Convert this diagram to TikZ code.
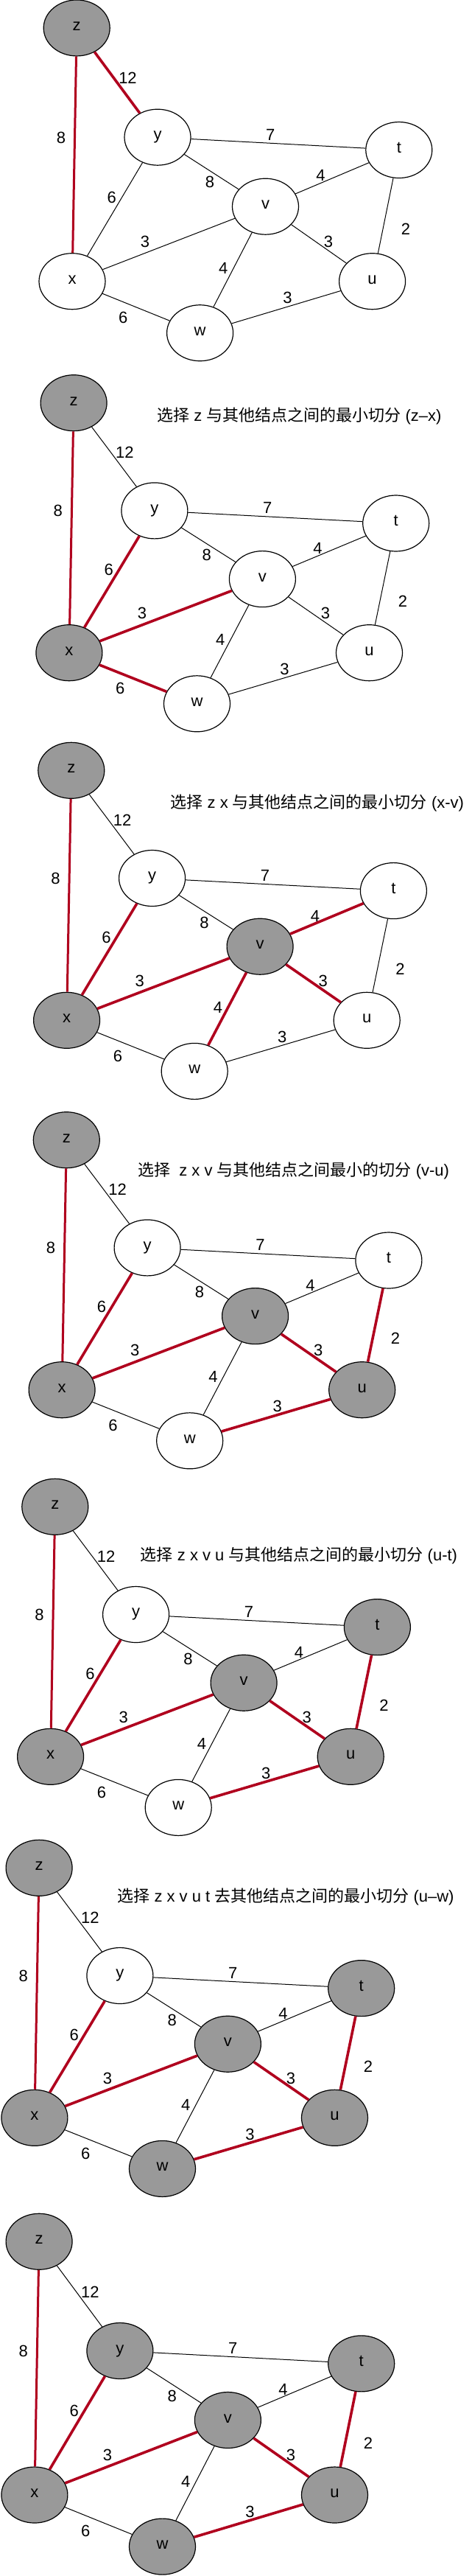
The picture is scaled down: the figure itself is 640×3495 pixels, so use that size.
\documentclass[tikz,border=0pt]{standalone}
\usepackage{fontspec}
\setmainfont{Liberation Sans}
\newfontfamily\cjk{Noto Sans CJK SC}
\usetikzlibrary{shapes.geometric}
\definecolor{cutred}{RGB}{176,0,30}
\definecolor{nodegray}{RGB}{153,153,153}
\tikzset{
  vtx/.style={ellipse, draw=black, line width=1.2pt, fill=white, minimum width=90pt, minimum height=76pt, inner sep=0pt, font=\fontsize{22}{26}\selectfont, text height=0.905em, text depth=0.212em},
  grayfill/.style={fill=nodegray},
  elab/.style={inner sep=0pt, font=\fontsize{22}{26}\selectfont},
  ttl/.style={anchor=west, inner sep=0pt, font=\fontsize{22}{26}\selectfont, text height=0.88em, text depth=0.12em},
  plainln/.style={draw=black, line width=1pt},
  redln/.style={draw=cutred, line width=3.6pt},
  redthin/.style={draw=cutred, line width=3pt},
  ndz/.style={}, ndy/.style={}, ndt/.style={}, ndv/.style={}, ndx/.style={}, ndu/.style={}, ndw/.style={},
  edzx/.style={plainln}, edzy/.style={plainln}, edyx/.style={plainln}, edyt/.style={plainln},
  edyv/.style={plainln}, edxv/.style={plainln}, edxw/.style={plainln}, edvt/.style={plainln},
  edvu/.style={plainln}, edvw/.style={plainln}, edtu/.style={plainln}, edwu/.style={plainln},
}
\newcommand\drawpanel[1]{%
  \node[vtx,ndz] (#1z) at (6.2,-339) {z};
  \node[vtx,ndy] (#1y) at (116,-192.8) {y};
  \node[vtx,ndt] (#1t) at (443.8,-175.7) {t};
  \node[vtx,ndv] (#1v) at (262.5,-100.1) {v};
  \node[vtx,ndx] (#1x) at (0,0) {x};
  \node[vtx,ndu] (#1u) at (407.6,0) {u};
  \node[vtx,ndw] (#1w) at (173.6,69.1) {w};
  \draw[edzx] (#1z) -- (#1x);
  \draw[edzy] (#1z) -- (#1y);
  \draw[edyx] (#1y) -- (#1x);
  \draw[edyt] (#1y) -- (#1t);
  \draw[edyv] (#1y) -- (#1v);
  \draw[edxv] (#1x) -- (#1v);
  \draw[edxw] (#1x) -- (#1w);
  \draw[edvt] (#1v) -- (#1t);
  \draw[edvu] (#1v) -- (#1u);
  \draw[edvw] (#1v) -- (#1w);
  \draw[edtu] (#1t) -- (#1u);
  \draw[edwu] (#1w) -- (#1u);
  \node[elab] (#1lzy) at (75.5,-271.9) {12};
  \node[elab] (#1lzx) at (-15.1,-192.3) {8};
  \node[elab] (#1lyt) at (269.3,-196.3) {7};
  \node[elab] (#1lyv) at (186.9,-132.5) {8};
  \node[elab] (#1lvt) at (337.5,-141.4) {4};
  \node[elab] (#1lyx) at (53.8,-112.4) {6};
  \node[elab] (#1ltu) at (453,-69.7) {2};
  \node[elab] (#1lxv) at (99.1,-53.3) {3};
  \node[elab] (#1lvu) at (348.1,-53.3) {3};
  \node[elab] (#1lvw) at (205.3,-17.5) {4};
  \node[elab] (#1lwu) at (292.6,22.3) {3};
  \node[elab] (#1lxw) at (69.3,48.6) {6};
}
\begin{document}
\begin{tikzpicture}[x=1pt,y=-1pt]
\useasboundingbox (0,0) rectangle (640,3495);
\fill[white] (0,0) rectangle (640,3495);
% panel 1
\begin{scope}[shift={(98,381.7)}, yscale=1.014,
  ndz/.style={grayfill}, edzx/.style={redthin}, edzy/.style={redln}]
\drawpanel{a}
\end{scope}
% panel 2
\begin{scope}[shift={(93.9,885.7)},
  ndz/.style={grayfill}, ndx/.style={grayfill},
  edzx/.style={redthin}, edyx/.style={redln}, edxv/.style={redln}, edxw/.style={redln}]
\drawpanel{b}
\end{scope}
\node[ttl] (tb) at (213.1,567.5) {{\cjk 选择} z {\cjk 与其他结点之间的最小切分} (z–x)};
% panel 3
\begin{scope}[shift={(90.6,1384.3)},
  ndz/.style={grayfill}, ndx/.style={grayfill}, ndv/.style={grayfill},
  edzx/.style={redthin}, edyx/.style={redln}, edxv/.style={redln},
  edvt/.style={redln}, edvu/.style={redln}, edvw/.style={redln}]
\drawpanel{c}
\end{scope}
\node[ttl] (tc) at (231.4,1092.5) {{\cjk 选择} z x {\cjk 与其他结点之间的最小切分} (x-v)};
% panel 4
\begin{scope}[shift={(84.1,1885.7)},
  ndz/.style={grayfill}, ndx/.style={grayfill}, ndv/.style={grayfill}, ndu/.style={grayfill},
  edzx/.style={redthin}, edyx/.style={redln}, edxv/.style={redln},
  edvu/.style={redln}, edtu/.style={redln}, edwu/.style={redln}]
\drawpanel{d}
\end{scope}
\node[ttl] (td) at (186.9,1591.7) {{\cjk 选择}\ \ z x v {\cjk 与其他结点之间最小的切分} (v-u)};
% panel 5
\begin{scope}[shift={(68.6,2383.3)},
  ndz/.style={grayfill}, ndx/.style={grayfill}, ndv/.style={grayfill}, ndu/.style={grayfill}, ndt/.style={grayfill},
  edzx/.style={redthin}, edyx/.style={redln}, edxv/.style={redln},
  edvu/.style={redln}, edtu/.style={redln}, edwu/.style={redln}]
\drawpanel{e}
\end{scope}
\node[ttl] (te) at (190.6,2113.3) {{\cjk 选择} z x v u {\cjk 与其他结点之间的最小切分} (u-t)};
% panel 6
\begin{scope}[shift={(46.9,2873.3)},
  ndz/.style={grayfill}, ndx/.style={grayfill}, ndv/.style={grayfill}, ndu/.style={grayfill}, ndt/.style={grayfill}, ndw/.style={grayfill},
  edzx/.style={redthin}, edyx/.style={redln}, edxv/.style={redln},
  edvu/.style={redln}, edtu/.style={redln}, edwu/.style={redln}]
\drawpanel{f}
\end{scope}
\node[ttl] (tf) at (159.2,2577) {{\cjk 选择} z x v u t {\cjk 去其他结点之间的最小切分} (u–w)};
% panel 7
\begin{scope}[shift={(46.9,3385)}, yscale=1.014,
  ndz/.style={grayfill}, ndx/.style={grayfill}, ndv/.style={grayfill}, ndu/.style={grayfill}, ndt/.style={grayfill}, ndw/.style={grayfill}, ndy/.style={grayfill},
  edzx/.style={redthin}, edyx/.style={redln}, edxv/.style={redln},
  edvu/.style={redln}, edtu/.style={redln}, edwu/.style={redln}]
\drawpanel{g}
\end{scope}
\end{tikzpicture}
\end{document}
